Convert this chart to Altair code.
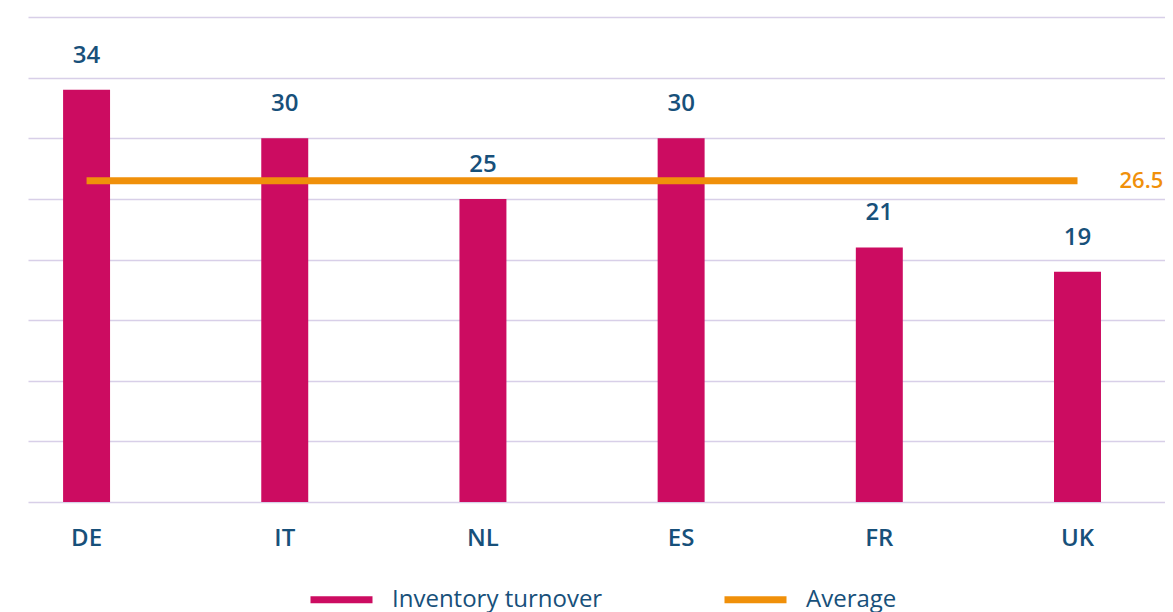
import altair as alt
import pandas as pd

countries = ["DE", "IT", "NL", "ES", "FR", "UK"]
turnover = [34, 30, 25, 30, 21, 19]
average = 26.5
series_names = ["Inventory turnover", "Average"]
series_colors = ["#cc0c61", "#f0900a"]
grid_values = [0, 5, 10, 15, 20, 25, 30, 35, 40]

FONT = "Open Sans"
TEXT_COLOR = "#17507a"

bars_df = pd.DataFrame({"country": countries, "value": turnover, "series": series_names[0]})
avg_df = pd.DataFrame({"start": [countries[0]], "end": [countries[-1]], "value": [average],
                       "series": [series_names[1]], "label": [f"{average}"]})

color_scale = alt.Scale(domain=series_names, range=series_colors)
x_scale = alt.Scale(domain=countries, paddingInner=0.763, paddingOuter=0.25, align=0.354)

x_enc = alt.X("country:N", title=None, scale=x_scale,
              axis=alt.Axis(ticks=False, domain=False, labelAngle=0, labelFont=FONT,
                            labelFontSize=24, labelFontWeight=600, labelColor=TEXT_COLOR,
                            labelPadding=24, grid=False))
y_scale = alt.Scale(domain=[0, 40], nice=False)
y_axis = alt.Axis(values=grid_values, labels=False, ticks=False, domain=False, title=None,
                  grid=True, gridColor="#d8cfe8", gridWidth=1.5)

bars = alt.Chart(bars_df).mark_bar().encode(
    x=x_enc,
    y=alt.Y("value:Q", scale=y_scale, axis=y_axis),
    color=alt.Color("series:N", scale=color_scale,
                    legend=alt.Legend(title=None, orient="none", direction="horizontal",
                                      legendX=279, legendY=548,
                                      symbolType="stroke", symbolSize=3844, symbolStrokeWidth=7,
                                      labelFont=FONT, labelFontSize=24, labelColor=TEXT_COLOR,
                                      labelLimit=400, labelOffset=16, columnPadding=107)),
)

bar_labels = alt.Chart(bars_df).mark_text(
    baseline="alphabetic", dy=-27, font=FONT, fontSize=24, fontWeight=600, color=TEXT_COLOR
).encode(
    x=alt.X("country:N", scale=x_scale),
    y=alt.Y("value:Q"),
    text=alt.Text("value:Q"),
)

avg_rule = alt.Chart(avg_df).mark_rule(strokeWidth=7).encode(
    x=alt.X("start:N", scale=x_scale),
    x2="end:N",
    y=alt.Y("value:Q"),
    color=alt.Color("series:N", scale=color_scale),
)

avg_label = alt.Chart(avg_df).mark_text(
    align="left", baseline="middle", dx=42, font=FONT, fontSize=22, fontWeight=600,
    color=series_colors[1]
).encode(
    x=alt.X("end:N", scale=x_scale),
    y=alt.Y("value:Q"),
    text="label:N",
)

chart = alt.layer(bars, bar_labels, avg_rule, avg_label).properties(
    width=1137, height=485,
    autosize=alt.AutoSizeParams(type="none"),
    padding={"left": 20, "top": 9, "right": 0, "bottom": 110},
).configure_view(stroke=None)

chart.save("out.html", embed_options={"renderer": "svg", "actions": False})
